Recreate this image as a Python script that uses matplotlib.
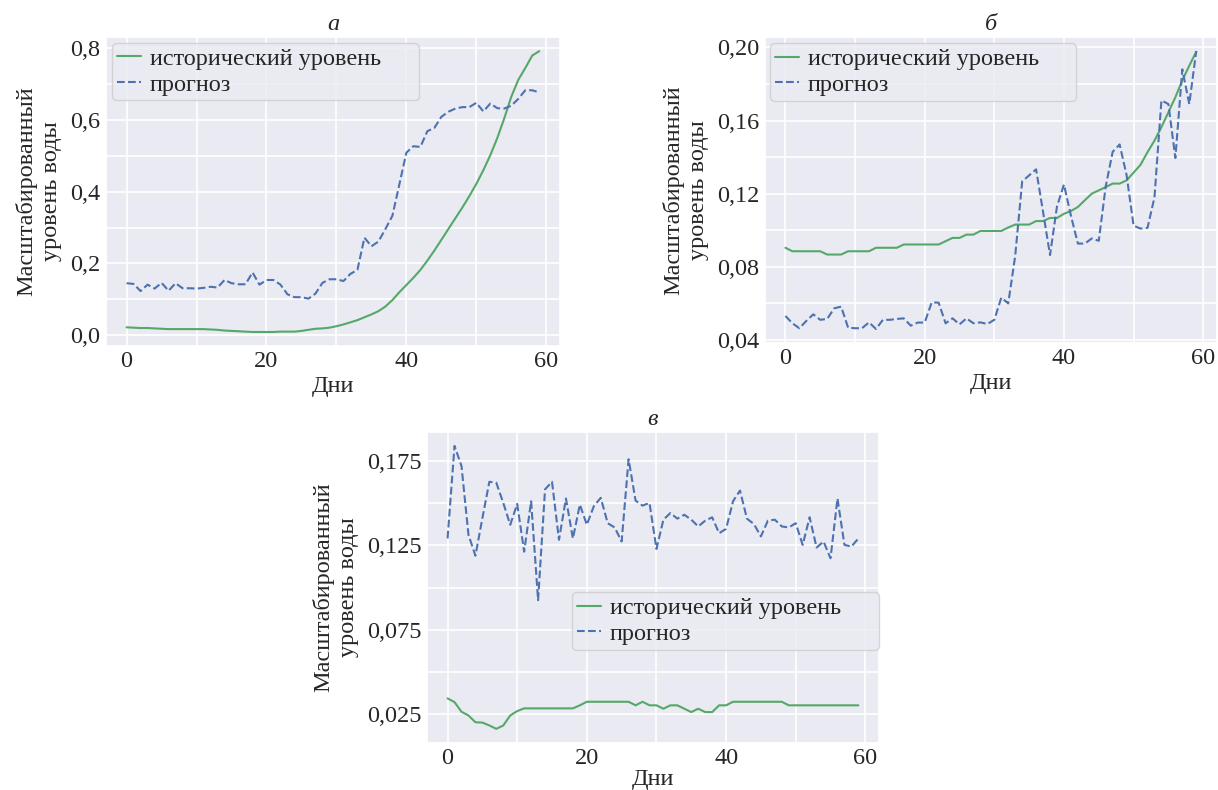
import numpy as np
import matplotlib
matplotlib.use("Agg")
import matplotlib.pyplot as plt
from matplotlib.ticker import FuncFormatter, MultipleLocator
import seaborn as sns

# Данные
days = list(range(60))

hist_a = [0.022, 0.021, 0.020, 0.020, 0.019, 0.018, 0.017, 0.017, 0.017, 0.017,
          0.017, 0.017, 0.016, 0.015, 0.013, 0.012, 0.011, 0.010, 0.009, 0.009,
          0.009, 0.009, 0.010, 0.010, 0.010, 0.012, 0.015, 0.018, 0.019, 0.021,
          0.025, 0.030, 0.036, 0.042, 0.050, 0.058, 0.067, 0.080, 0.098, 0.120,
          0.140, 0.160, 0.182, 0.208, 0.236, 0.266, 0.296, 0.326, 0.356, 0.388,
          0.422, 0.460, 0.502, 0.550, 0.605, 0.665, 0.712, 0.745, 0.780, 0.792]
pred_a = [0.145, 0.143, 0.123, 0.141, 0.130, 0.146, 0.124, 0.145, 0.131, 0.131,
          0.130, 0.132, 0.135, 0.133, 0.154, 0.145, 0.142, 0.142, 0.175, 0.141,
          0.154, 0.154, 0.141, 0.114, 0.106, 0.106, 0.102, 0.116, 0.146, 0.156,
          0.156, 0.151, 0.171, 0.182, 0.272, 0.248, 0.261, 0.296, 0.333, 0.421,
          0.509, 0.527, 0.525, 0.569, 0.578, 0.609, 0.623, 0.632, 0.636, 0.636,
          0.648, 0.624, 0.646, 0.633, 0.632, 0.640, 0.659, 0.683, 0.683, 0.677]

hist_b = [0.0904, 0.0885, 0.0885, 0.0885, 0.0885, 0.0885, 0.0867, 0.0867, 0.0867, 0.0885,
          0.0885, 0.0885, 0.0885, 0.0904, 0.0904, 0.0904, 0.0904, 0.0922, 0.0922, 0.0922,
          0.0922, 0.0922, 0.0922, 0.0940, 0.0958, 0.0958, 0.0976, 0.0976, 0.0996, 0.0996,
          0.0996, 0.0996, 0.1015, 0.1031, 0.1031, 0.1031, 0.1050, 0.1050, 0.1067, 0.1067,
          0.1090, 0.1105, 0.1127, 0.1164, 0.1200, 0.1218, 0.1236, 0.1255, 0.1255, 0.1273,
          0.1315, 0.1358, 0.1427, 0.1490, 0.1564, 0.1645, 0.1727, 0.1820, 0.1900, 0.1976]
pred_b = [0.0531, 0.0491, 0.0464, 0.0504, 0.0540, 0.0510, 0.0515, 0.0573, 0.0582, 0.0467,
          0.0464, 0.0464, 0.0496, 0.0460, 0.0510, 0.0510, 0.0515, 0.0518, 0.0478, 0.0495,
          0.0495, 0.0605, 0.0604, 0.0491, 0.0518, 0.0485, 0.0518, 0.0491, 0.0496, 0.0487,
          0.0510, 0.0631, 0.0600, 0.0860, 0.1267, 0.1300, 0.1333, 0.1100, 0.0864, 0.1130,
          0.1250, 0.1080, 0.0927, 0.0927, 0.0955, 0.0942, 0.1240, 0.1429, 0.1469, 0.1300,
          0.1025, 0.1009, 0.1013, 0.1180, 0.1710, 0.1690, 0.1395, 0.1880, 0.1690, 0.1980]

hist_c = [0.0345, 0.0323, 0.0266, 0.0244, 0.0204, 0.0202, 0.0185, 0.0165, 0.0185, 0.0244,
          0.0270, 0.0286, 0.0286, 0.0286, 0.0286, 0.0286, 0.0286, 0.0286, 0.0286, 0.0304,
          0.0325, 0.0325, 0.0325, 0.0325, 0.0325, 0.0325, 0.0325, 0.0304, 0.0325, 0.0304,
          0.0304, 0.0284, 0.0304, 0.0304, 0.0284, 0.0264, 0.0284, 0.0264, 0.0264, 0.0304,
          0.0304, 0.0325, 0.0325, 0.0325, 0.0325, 0.0325, 0.0325, 0.0325, 0.0325, 0.0304,
          0.0304, 0.0304, 0.0304, 0.0304, 0.0304, 0.0304, 0.0304, 0.0304, 0.0304, 0.0304]
pred_c = [0.1290, 0.1837, 0.1718, 0.1312, 0.1188, 0.1410, 0.1625, 0.1619, 0.1500, 0.1371,
          0.1494, 0.1212, 0.1510, 0.0925, 0.1580, 0.1625, 0.1282, 0.1526, 0.1290, 0.1490,
          0.1371, 0.1480, 0.1530, 0.1380, 0.1355, 0.1272, 0.1758, 0.1514, 0.1484, 0.1500,
          0.1228, 0.1401, 0.1440, 0.1407, 0.1430, 0.1401, 0.1361, 0.1395, 0.1415, 0.1321,
          0.1347, 0.1510, 0.1573, 0.1407, 0.1375, 0.1302, 0.1395, 0.1401, 0.1361, 0.1355,
          0.1380, 0.1252, 0.1415, 0.1236, 0.1272, 0.1173, 0.1526, 0.1252, 0.1242, 0.1290]

titles = ["а", "б", "в"]
ylabel = "Масштабированный\nуровень воды"
xlabel = "Дни"
lbl_hist = "исторический уровень"
lbl_pred = "прогноз"

sns.set_theme(style="darkgrid")
plt.rcParams['font.family'] = ['Liberation Serif', 'DejaVu Serif']
fs = 17.5

fig = plt.figure(figsize=(12.18, 7.90), dpi=100)
ax_a = fig.add_axes([0.087, 0.562, 0.3727, 0.391])
ax_b = fig.add_axes([0.628, 0.566, 0.371, 0.387])
ax_c = fig.add_axes([0.3506, 0.0595, 0.371, 0.394])

green = "#55A868"
blue = "#4C72B0"

# (оси, история, прогноз, шаг подписей, шаг сетки, знаков после запятой, рамка легенды)
panels = [
    (ax_a, hist_a, pred_a, 0.2, 0.1, 1, (0.013, 0.0, 0.676, 0.981)),
    (ax_b, hist_b, pred_b, 0.04, 0.02, 2, (0.011, 0.0, 0.677, 0.980)),
    (ax_c, hist_c, pred_c, 0.05, 0.025, 3, (0.321, 0.0, 0.679, 0.484)),
]

for (ax, h, p, major, minor, nd, lbox), t in zip(panels, titles):
    ax.plot(days, h, color=green, lw=1.5, label=lbl_hist)
    ax.plot(days, p, color=blue, lw=1.5, ls='--', label=lbl_pred)
    ax.set_title(t, fontsize=fs, style='italic', pad=5)
    ax.set_xlabel(xlabel, fontsize=fs, labelpad=3)
    ax.set_ylabel(ylabel, fontsize=fs, labelpad=6)
    ax.xaxis.set_major_locator(MultipleLocator(20))
    ax.xaxis.set_minor_locator(MultipleLocator(10))
    ax.yaxis.set_major_locator(MultipleLocator(major))
    ax.yaxis.set_minor_locator(MultipleLocator(minor))
    ax.yaxis.set_major_formatter(FuncFormatter(lambda v, pos, nd=nd: f"{v:.{nd}f}".replace('.', ',')))
    ax.grid(which='both', color='white', lw=1.2)
    ax.tick_params(which='both', length=0, labelsize=fs)
    ax.tick_params(axis='y', pad=4)
    ax.legend(loc='upper left', bbox_to_anchor=lbox, mode='expand', fontsize=fs,
              borderpad=0.2, labelspacing=0.15, handlelength=1.0, handletextpad=0.35,
              borderaxespad=0.0)

ax_c.set_yticks([0.025, 0.075, 0.125, 0.175])
ax_c.yaxis.set_minor_locator(MultipleLocator(0.025))
ax_c.set_xlabel(xlabel, fontsize=fs, labelpad=0)

fig.savefig("out.png", dpi=100)
